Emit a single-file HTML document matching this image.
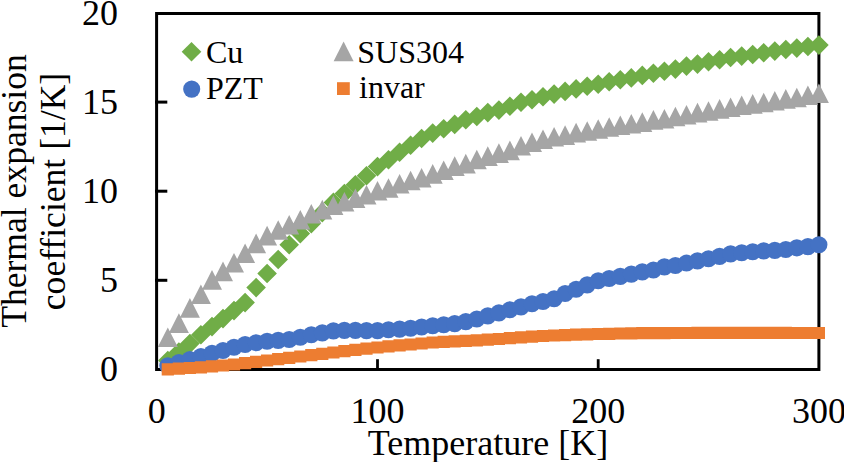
<!DOCTYPE html>
<html><head><meta charset="utf-8"><style>
html,body{margin:0;padding:0;background:#fff;width:844px;height:462px;overflow:hidden}
svg{display:block}
</style></head><body>
<svg width="844" height="462" viewBox="0 0 844 462"><rect width="844" height="462" fill="#fff"/><path d="M156.6 13.4H818.9V369.5H156.6Z" fill="none" stroke="#000" stroke-width="3" stroke-linejoin="miter"/><path d="M155 280.3H167.3" stroke="#000" stroke-width="3"/><path d="M155 191.2H167.3" stroke="#000" stroke-width="3"/><path d="M155 102.1H167.3" stroke="#000" stroke-width="3"/><path d="M377.5 359.2V370" stroke="#000" stroke-width="2.8"/><path d="M598.2 359.2V370" stroke="#000" stroke-width="2.8"/><path fill="#70ad47" d="M167.8 350.7L177.6 360.5L167.8 370.3L158.0 360.5ZM178.9 342.3L188.7 352.1L178.9 361.9L169.1 352.1ZM189.9 333.8L199.7 343.6L189.9 353.4L180.1 343.6ZM200.9 325.0L210.7 334.8L200.9 344.6L191.1 334.8ZM212.0 316.8L221.8 326.6L212.0 336.4L202.2 326.6ZM223.0 308.8L232.8 318.6L223.0 328.4L213.2 318.6ZM234.0 300.8L243.8 310.6L234.0 320.4L224.2 310.6ZM245.1 292.8L254.9 302.6L245.1 312.4L235.3 302.6ZM256.1 277.8L265.9 287.6L256.1 297.4L246.3 287.6ZM267.1 263.7L276.9 273.5L267.1 283.3L257.3 273.5ZM278.2 249.7L288.0 259.5L278.2 269.3L268.4 259.5ZM289.2 235.0L299.0 244.8L289.2 254.6L279.4 244.8ZM300.3 223.8L310.1 233.6L300.3 243.4L290.5 233.6ZM311.3 213.8L321.1 223.6L311.3 233.4L301.5 223.6ZM322.3 202.8L332.1 212.6L322.3 222.4L312.5 212.6ZM333.4 192.6L343.2 202.4L333.4 212.2L323.6 202.4ZM344.4 183.7L354.2 193.5L344.4 203.3L334.6 193.5ZM355.4 175.0L365.2 184.8L355.4 194.6L345.6 184.8ZM366.5 165.9L376.3 175.7L366.5 185.5L356.7 175.7ZM377.5 156.8L387.3 166.6L377.5 176.4L367.7 166.6ZM388.5 149.9L398.3 159.7L388.5 169.5L378.7 159.7ZM399.6 142.4L409.4 152.2L399.6 162.0L389.8 152.2ZM410.6 135.4L420.4 145.2L410.6 155.0L400.8 145.2ZM421.6 128.7L431.4 138.5L421.6 148.3L411.8 138.5ZM432.7 123.3L442.5 133.1L432.7 142.9L422.9 133.1ZM443.7 119.0L453.5 128.8L443.7 138.6L433.9 128.8ZM454.7 114.6L464.5 124.4L454.7 134.2L444.9 124.4ZM465.8 109.9L475.6 119.7L465.8 129.5L456.0 119.7ZM476.8 106.7L486.6 116.5L476.8 126.3L467.0 116.5ZM487.8 102.8L497.6 112.6L487.8 122.4L478.0 112.6ZM498.9 100.3L508.7 110.1L498.9 119.9L489.1 110.1ZM509.9 96.4L519.7 106.2L509.9 116.0L500.1 106.2ZM521.0 92.5L530.8 102.3L521.0 112.1L511.2 102.3ZM532.0 90.0L541.8 99.8L532.0 109.6L522.2 99.8ZM543.0 87.0L552.8 96.8L543.0 106.6L533.2 96.8ZM554.1 84.3L563.9 94.1L554.1 103.9L544.3 94.1ZM565.1 81.6L574.9 91.4L565.1 101.2L555.3 91.4ZM576.1 79.1L585.9 88.9L576.1 98.7L566.3 88.9ZM587.2 76.4L597.0 86.2L587.2 96.0L577.4 86.2ZM598.2 74.5L608.0 84.3L598.2 94.1L588.4 84.3ZM609.2 72.0L619.0 81.8L609.2 91.6L599.4 81.8ZM620.3 70.0L630.1 79.8L620.3 89.6L610.5 79.8ZM631.3 68.1L641.1 77.9L631.3 87.7L621.5 77.9ZM642.3 65.6L652.1 75.4L642.3 85.2L632.5 75.4ZM653.4 63.4L663.2 73.2L653.4 83.0L643.6 73.2ZM664.4 61.5L674.2 71.3L664.4 81.1L654.6 71.3ZM675.4 59.3L685.2 69.1L675.4 78.9L665.6 69.1ZM686.5 56.3L696.3 66.1L686.5 75.9L676.7 66.1ZM697.5 54.3L707.3 64.1L697.5 73.9L687.7 64.1ZM708.5 52.0L718.3 61.8L708.5 71.6L698.8 61.8ZM719.6 49.9L729.4 59.7L719.6 69.5L709.8 59.7ZM730.6 47.7L740.4 57.5L730.6 67.3L720.8 57.5ZM741.7 46.3L751.5 56.1L741.7 65.9L731.9 56.1ZM752.7 44.7L762.5 54.5L752.7 64.3L742.9 54.5ZM763.7 42.9L773.5 52.7L763.7 62.5L753.9 52.7ZM774.8 41.3L784.6 51.1L774.8 60.9L765.0 51.1ZM785.8 39.7L795.6 49.5L785.8 59.3L776.0 49.5ZM796.8 38.3L806.6 48.1L796.8 57.9L787.0 48.1ZM807.9 36.7L817.7 46.5L807.9 56.3L798.1 46.5ZM818.9 35.3L828.7 45.1L818.9 54.9L809.1 45.1Z"/><path fill="#a5a5a5" d="M167.8 327.5L177.8 347.1L157.8 347.1ZM178.9 313.3L188.9 332.9L168.9 332.9ZM189.9 298.1L199.9 317.7L179.9 317.7ZM200.9 284.4L210.9 304.0L190.9 304.0ZM212.0 270.1L222.0 289.7L202.0 289.7ZM223.0 261.6L233.0 281.2L213.0 281.2ZM234.0 252.9L244.0 272.5L224.0 272.5ZM245.1 243.4L255.1 263.0L235.1 263.0ZM256.1 233.6L266.1 253.2L246.1 253.2ZM267.1 225.8L277.1 245.4L257.1 245.4ZM278.2 220.2L288.2 239.8L268.2 239.8ZM289.2 214.9L299.2 234.5L279.2 234.5ZM300.3 209.9L310.3 229.5L290.3 229.5ZM311.3 204.0L321.3 223.6L301.3 223.6ZM322.3 199.8L332.3 219.4L312.3 219.4ZM333.4 195.5L343.4 215.1L323.4 215.1ZM344.4 191.9L354.4 211.5L334.4 211.5ZM355.4 188.5L365.4 208.1L345.4 208.1ZM366.5 185.0L376.5 204.6L356.5 204.6ZM377.5 180.9L387.5 200.5L367.5 200.5ZM388.5 178.2L398.5 197.8L378.5 197.8ZM399.6 173.9L409.6 193.5L389.6 193.5ZM410.6 170.7L420.6 190.3L400.6 190.3ZM421.6 167.9L431.6 187.5L411.6 187.5ZM432.7 164.1L442.7 183.7L422.7 183.7ZM443.7 160.4L453.7 180.0L433.7 180.0ZM454.7 156.3L464.7 175.9L444.7 175.9ZM465.8 153.8L475.8 173.4L455.8 173.4ZM476.8 149.7L486.8 169.3L466.8 169.3ZM487.8 146.3L497.8 165.9L477.8 165.9ZM498.9 143.3L508.9 162.9L488.9 162.9ZM509.9 140.6L519.9 160.2L499.9 160.2ZM521.0 136.0L531.0 155.6L511.0 155.6ZM532.0 132.4L542.0 152.0L522.0 152.0ZM543.0 129.4L553.0 149.0L533.0 149.0ZM554.1 127.0L564.1 146.6L544.1 146.6ZM565.1 125.3L575.1 144.9L555.1 144.9ZM576.1 122.8L586.1 142.4L566.1 142.4ZM587.2 121.2L597.2 140.8L577.2 140.8ZM598.2 119.2L608.2 138.8L588.2 138.8ZM609.2 117.2L619.2 136.8L599.2 136.8ZM620.3 115.5L630.3 135.1L610.3 135.1ZM631.3 114.0L641.3 133.6L621.3 133.6ZM642.3 112.3L652.3 131.9L632.3 131.9ZM653.4 110.1L663.4 129.7L643.4 129.7ZM664.4 108.9L674.4 128.5L654.4 128.5ZM675.4 106.7L685.4 126.3L665.4 126.3ZM686.5 105.0L696.5 124.6L676.5 124.6ZM697.5 102.8L707.5 122.4L687.5 122.4ZM708.5 101.2L718.5 120.8L698.5 120.8ZM719.6 99.1L729.6 118.7L709.6 118.7ZM730.6 97.5L740.6 117.1L720.6 117.1ZM741.7 95.5L751.7 115.1L731.7 115.1ZM752.7 94.1L762.7 113.7L742.7 113.7ZM763.7 92.7L773.7 112.3L753.7 112.3ZM774.8 90.9L784.8 110.5L764.8 110.5ZM785.8 89.1L795.8 108.7L775.8 108.7ZM796.8 87.7L806.8 107.3L786.8 107.3ZM807.9 85.4L817.9 105.0L797.9 105.0ZM818.9 83.4L828.9 103.0L808.9 103.0Z"/><circle cx="167.8" cy="365.8" r="8.55" fill="#4472c4"/><circle cx="178.9" cy="362.6" r="8.55" fill="#4472c4"/><circle cx="189.9" cy="359.6" r="8.55" fill="#4472c4"/><circle cx="200.9" cy="356.6" r="8.55" fill="#4472c4"/><circle cx="212.0" cy="353.4" r="8.55" fill="#4472c4"/><circle cx="223.0" cy="350.5" r="8.55" fill="#4472c4"/><circle cx="234.0" cy="347.3" r="8.55" fill="#4472c4"/><circle cx="245.1" cy="344.5" r="8.55" fill="#4472c4"/><circle cx="256.1" cy="342.8" r="8.55" fill="#4472c4"/><circle cx="267.1" cy="341.2" r="8.55" fill="#4472c4"/><circle cx="278.2" cy="340.4" r="8.55" fill="#4472c4"/><circle cx="289.2" cy="339.5" r="8.55" fill="#4472c4"/><circle cx="300.3" cy="337.3" r="8.55" fill="#4472c4"/><circle cx="311.3" cy="334.7" r="8.55" fill="#4472c4"/><circle cx="322.3" cy="332.9" r="8.55" fill="#4472c4"/><circle cx="333.4" cy="330.9" r="8.55" fill="#4472c4"/><circle cx="344.4" cy="330.4" r="8.55" fill="#4472c4"/><circle cx="355.4" cy="330.4" r="8.55" fill="#4472c4"/><circle cx="366.5" cy="330.6" r="8.55" fill="#4472c4"/><circle cx="377.5" cy="330.6" r="8.55" fill="#4472c4"/><circle cx="388.5" cy="329.8" r="8.55" fill="#4472c4"/><circle cx="399.6" cy="329.1" r="8.55" fill="#4472c4"/><circle cx="410.6" cy="328.2" r="8.55" fill="#4472c4"/><circle cx="421.6" cy="327.0" r="8.55" fill="#4472c4"/><circle cx="432.7" cy="325.7" r="8.55" fill="#4472c4"/><circle cx="443.7" cy="324.8" r="8.55" fill="#4472c4"/><circle cx="454.7" cy="323.6" r="8.55" fill="#4472c4"/><circle cx="465.8" cy="321.6" r="8.55" fill="#4472c4"/><circle cx="476.8" cy="319.0" r="8.55" fill="#4472c4"/><circle cx="487.8" cy="315.9" r="8.55" fill="#4472c4"/><circle cx="498.9" cy="312.9" r="8.55" fill="#4472c4"/><circle cx="509.9" cy="309.7" r="8.55" fill="#4472c4"/><circle cx="521.0" cy="306.9" r="8.55" fill="#4472c4"/><circle cx="532.0" cy="303.8" r="8.55" fill="#4472c4"/><circle cx="543.0" cy="301.5" r="8.55" fill="#4472c4"/><circle cx="554.1" cy="298.7" r="8.55" fill="#4472c4"/><circle cx="565.1" cy="293.5" r="8.55" fill="#4472c4"/><circle cx="576.1" cy="289.2" r="8.55" fill="#4472c4"/><circle cx="587.2" cy="284.9" r="8.55" fill="#4472c4"/><circle cx="598.2" cy="280.7" r="8.55" fill="#4472c4"/><circle cx="609.2" cy="278.5" r="8.55" fill="#4472c4"/><circle cx="620.3" cy="276.4" r="8.55" fill="#4472c4"/><circle cx="631.3" cy="274.1" r="8.55" fill="#4472c4"/><circle cx="642.3" cy="271.9" r="8.55" fill="#4472c4"/><circle cx="653.4" cy="270.0" r="8.55" fill="#4472c4"/><circle cx="664.4" cy="266.9" r="8.55" fill="#4472c4"/><circle cx="675.4" cy="265.5" r="8.55" fill="#4472c4"/><circle cx="686.5" cy="263.0" r="8.55" fill="#4472c4"/><circle cx="697.5" cy="260.9" r="8.55" fill="#4472c4"/><circle cx="708.5" cy="258.7" r="8.55" fill="#4472c4"/><circle cx="719.6" cy="256.4" r="8.55" fill="#4472c4"/><circle cx="730.6" cy="253.9" r="8.55" fill="#4472c4"/><circle cx="741.7" cy="252.7" r="8.55" fill="#4472c4"/><circle cx="752.7" cy="251.8" r="8.55" fill="#4472c4"/><circle cx="763.7" cy="250.9" r="8.55" fill="#4472c4"/><circle cx="774.8" cy="250.4" r="8.55" fill="#4472c4"/><circle cx="785.8" cy="249.5" r="8.55" fill="#4472c4"/><circle cx="796.8" cy="247.9" r="8.55" fill="#4472c4"/><circle cx="807.9" cy="246.6" r="8.55" fill="#4472c4"/><circle cx="818.9" cy="244.8" r="8.55" fill="#4472c4"/><path fill="#ed7d31" d="M161.7 363.3h12.2v12.2h-12.2ZM172.8 362.6h12.2v12.2h-12.2ZM183.8 361.9h12.2v12.2h-12.2ZM194.8 361.2h12.2v12.2h-12.2ZM205.9 360.3h12.2v12.2h-12.2ZM216.9 359.4h12.2v12.2h-12.2ZM227.9 358.4h12.2v12.2h-12.2ZM239.0 357.1h12.2v12.2h-12.2ZM250.0 355.8h12.2v12.2h-12.2ZM261.0 354.4h12.2v12.2h-12.2ZM272.1 353.1h12.2v12.2h-12.2ZM283.1 351.7h12.2v12.2h-12.2ZM294.2 350.4h12.2v12.2h-12.2ZM305.2 349.0h12.2v12.2h-12.2ZM316.2 347.7h12.2v12.2h-12.2ZM327.3 346.4h12.2v12.2h-12.2ZM338.3 345.1h12.2v12.2h-12.2ZM349.3 343.8h12.2v12.2h-12.2ZM360.4 342.5h12.2v12.2h-12.2ZM371.4 341.4h12.2v12.2h-12.2ZM382.4 340.3h12.2v12.2h-12.2ZM393.5 339.3h12.2v12.2h-12.2ZM404.5 338.4h12.2v12.2h-12.2ZM415.5 337.4h12.2v12.2h-12.2ZM426.6 336.4h12.2v12.2h-12.2ZM437.6 335.7h12.2v12.2h-12.2ZM448.6 335.2h12.2v12.2h-12.2ZM459.7 334.7h12.2v12.2h-12.2ZM470.7 334.3h12.2v12.2h-12.2ZM481.7 333.6h12.2v12.2h-12.2ZM492.8 332.9h12.2v12.2h-12.2ZM503.8 332.1h12.2v12.2h-12.2ZM514.9 331.3h12.2v12.2h-12.2ZM525.9 330.6h12.2v12.2h-12.2ZM536.9 329.9h12.2v12.2h-12.2ZM548.0 329.4h12.2v12.2h-12.2ZM559.0 329.0h12.2v12.2h-12.2ZM570.0 328.6h12.2v12.2h-12.2ZM581.1 328.3h12.2v12.2h-12.2ZM592.1 327.9h12.2v12.2h-12.2ZM603.1 327.7h12.2v12.2h-12.2ZM614.2 327.4h12.2v12.2h-12.2ZM625.2 327.2h12.2v12.2h-12.2ZM636.2 327.1h12.2v12.2h-12.2ZM647.3 327.1h12.2v12.2h-12.2ZM658.3 327.0h12.2v12.2h-12.2ZM669.3 326.9h12.2v12.2h-12.2ZM680.4 326.9h12.2v12.2h-12.2ZM691.4 326.8h12.2v12.2h-12.2ZM702.4 326.8h12.2v12.2h-12.2ZM713.5 326.8h12.2v12.2h-12.2ZM724.5 326.8h12.2v12.2h-12.2ZM735.6 326.8h12.2v12.2h-12.2ZM746.6 326.8h12.2v12.2h-12.2ZM757.6 326.8h12.2v12.2h-12.2ZM768.7 326.8h12.2v12.2h-12.2ZM779.7 326.8h12.2v12.2h-12.2ZM790.7 326.9h12.2v12.2h-12.2ZM801.8 326.9h12.2v12.2h-12.2ZM812.8 326.9h12.2v12.2h-12.2Z"/><text x="118" y="381.2" text-anchor="end" font-family="Liberation Serif, serif" font-size="36">0</text><text x="118" y="292.1" text-anchor="end" font-family="Liberation Serif, serif" font-size="36">5</text><text x="118" y="203.0" text-anchor="end" font-family="Liberation Serif, serif" font-size="36">10</text><text x="118" y="113.9" text-anchor="end" font-family="Liberation Serif, serif" font-size="36">15</text><text x="118" y="24.8" text-anchor="end" font-family="Liberation Serif, serif" font-size="36">20</text><text x="156.8" y="423" text-anchor="middle" font-family="Liberation Serif, serif" font-size="36">0</text><text x="377.5" y="423" text-anchor="middle" font-family="Liberation Serif, serif" font-size="36">100</text><text x="598.2" y="423" text-anchor="middle" font-family="Liberation Serif, serif" font-size="36">200</text><text x="818.9" y="423" text-anchor="middle" font-family="Liberation Serif, serif" font-size="36">300</text><text x="488" y="455" text-anchor="middle" font-family="Liberation Serif, serif" font-size="36">Temperature [K]</text><text transform="translate(25.5 191) rotate(-90)" text-anchor="middle" font-family="Liberation Serif, serif" font-size="35.6">Thermal expansion</text><text transform="translate(65 191.5) rotate(-90)" text-anchor="middle" font-family="Liberation Serif, serif" font-size="35.6">coefficient [1/K]</text><path fill="#70ad47" d="M191.5 42.0L201.3 51.8L191.5 61.599999999999994L181.7 51.8Z"/><circle cx="191.7" cy="89.1" r="8.55" fill="#4472c4"/><path fill="#a5a5a5" d="M343.6 41.599999999999994L353.6 61.2L333.6 61.2Z"/><path fill="#ed7d31" d="M337.0 82.19999999999999h12.8v12.8h-12.8Z"/><text x="206" y="62.6" font-family="Liberation Serif, serif" font-size="32">Cu</text><text x="206" y="99.2" font-family="Liberation Serif, serif" font-size="32">PZT</text><text x="357.3" y="62.9" font-family="Liberation Serif, serif" font-size="32">SUS304</text><text x="359" y="98.4" font-family="Liberation Serif, serif" font-size="32">invar</text></svg>
</body></html>
